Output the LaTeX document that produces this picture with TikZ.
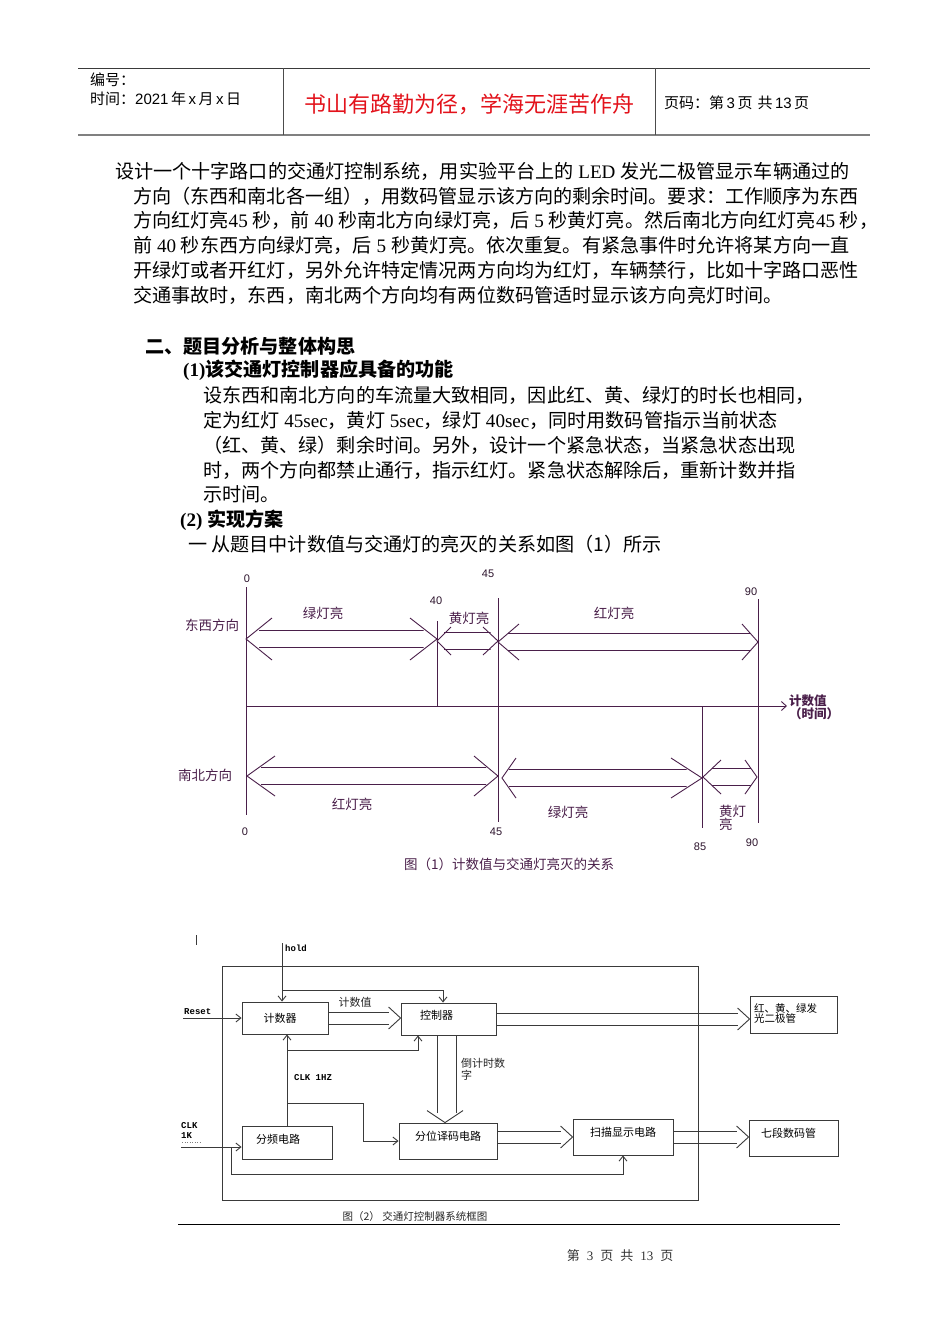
\documentclass[tikz,border=0pt]{standalone}
\usepackage{fontspec}
\setmainfont{Liberation Serif}
\setsansfont{Liberation Sans}
\setmonofont{Liberation Mono}
\newfontfamily\cjk{Noto Sans CJK SC}
\usepackage{tikz}
\usetikzlibrary{arrows.meta,positioning,calc}
\definecolor{figPurple}{HTML}{4A1F4A}
\definecolor{hdRed}{HTML}{E3121B}
\definecolor{lineGray}{HTML}{3A3A3A}
\newcommand{\lat}[1]{{\rmfamily #1}}
\newcommand{\busarrow}[2]{%
  \draw[ln] ([yshift=-6]#1) -- ([xshift=-12,yshift=-6]#2) ([yshift=6]#1) -- ([xshift=-12,yshift=6]#2);
  \draw[ln] ([xshift=-12,yshift=-11]#2) -- (#2) -- ([xshift=-12,yshift=11]#2);}

\begin{document}
\begin{tikzpicture}[x=1pt, y=-1pt,
  body/.style={anchor=west, inner sep=0pt, font=\cjk\fontsize{19.1}{19}\selectfont},
  hd/.style={body, font=\cjk\bfseries\fontsize{19.1}{19}\selectfont},
  hdr/.style={anchor=west, inner sep=0pt, font=\cjk\fontsize{15}{18}\selectfont},
  tl/.style={draw=figPurple, line width=.9pt},
  tlbl/.style={text=figPurple, inner sep=0pt, font=\cjk\fontsize{13.5}{13}\selectfont},
  num/.style={text=figPurple!60!black, inner sep=0pt, font=\sffamily\fontsize{11}{12}\selectfont},
  ln/.style={draw=lineGray, line width=.9pt},
  e/.style={ln, -{Straight Barb[length=5pt,width=8pt]}},
  blk/.style={ln, inner sep=1pt, text depth=11pt, align=left, font=\cjk\fontsize{11}{12}\selectfont},
  flbl/.style={text=black!85, inner sep=0pt, font=\cjk\fontsize{11}{12}\selectfont},
  tt/.style={inner sep=0pt, font=\ttfamily\bfseries\fontsize{9}{10}\selectfont}]
\fill[white] (0,0) rectangle (950,1344);
\useasboundingbox (0,0) rectangle (950,1344);

% page header
\draw[lineGray, line width=1pt] (78,68) -- (870,68);
\draw[gray, line width=2pt] (78,135) -- (870,135);
\draw[gray!60!black, line width=.8pt] (283,68) -- (283,135) (655,68) -- (655,135);
\node[hdr] (idno) at (90,80) {编号：};
\node[hdr] (date) at (90,99) {时间：{\sffamily 2021}\,年\,{\sffamily x}\,月\,{\sffamily x}\,日};
\node[inner sep=0pt, text=hdRed, font=\cjk\fontsize{22}{22}\selectfont] (motto) at (469,104) {书山有路勤为径，学海无涯苦作舟};
\node[hdr] (page) at (664,103) {页码：第\,{\sffamily 3}\,页\hspace{5pt}共\,{\sffamily 13}\,页};

% body text
\node[body] (p1) at (115,171) {设计一个十字路口的交通灯控制系统，用实验平台上的\lat{ LED }发光二极管显示车辆通过的};
\node[body] (p2) at (133,196) {方向（东西和南北各一组），用数码管显示该方向的剩余时间。要求：工作顺序为东西};
\node[body] (p3) at (133,220) {方向红灯亮\lat{45 }秒，前\lat{ 40 }秒南北方向绿灯亮，后\lat{ 5 }秒黄灯亮。然后南北方向红灯亮\lat{45 }秒，};
\node[body] (p4) at (133,245) {前\lat{ 40 }秒东西方向绿灯亮，后\lat{ 5 }秒黄灯亮。依次重复。有紧急事件时允许将某方向一直};
\node[body] (p5) at (133,270) {开绿灯或者开红灯，另外允许特定情况两方向均为红灯，车辆禁行，比如十字路口恶性};
\node[body] (p6) at (133,295) {交通事故时，东西，南北两个方向均有两位数码管适时显示该方向亮灯时间。};
\node[hd] (h1) at (145,346) {二、题目分析与整体构思};
\node[hd] (h2) at (183,370) {\lat{\bfseries(1)}该交通灯控制器应具备的功能};
\node[body] (q1) at (203,395) {设东西和南北方向的车流量大致相同，因此红、黄、绿灯的时长也相同，};
\node[body] (q2) at (203,420) {定为红灯\lat{ 45sec}，黄灯\lat{ 5sec}，绿灯\lat{ 40sec}，同时用数码管指示当前状态};
\node[body] (q3) at (203,445) {（红、黄、绿）剩余时间。另外，设计一个紧急状态，当紧急状态出现};
\node[body] (q4) at (203,470) {时，两个方向都禁止通行，指示红灯。紧急状态解除后，重新计数并指};
\node[body] (q5) at (203,494) {示时间。};
\node[hd] (h3) at (180,520) {\lat{\bfseries(2) }实现方案};
\node[body] (r1) at (188,544) {一 从题目中计数值与交通灯的亮灭的关系如图（1）所示};

% figure 1: count value vs lamps
\foreach \x/\ya/\yb in {246/587/815, 437/621/706, 498/598/822, 758/599/823, 702/706/828}
  \draw[tl] (\x,\ya) -- (\x,\yb);
\draw[tl, -{Straight Barb[length=5pt,width=9pt]}] (246,706) -- (787,706);
\foreach \xa/\xb/\yc/\pl/\pr/\ph in {246/437/639/26/27/21, 437/498/641/14/15/14, 498/758/642/21/16/18,
    247/498/776/28/24/20, 502/702/778/14/31/20, 703/757/777/18/12/17}{
  \draw[tl] (\xa+\pl,\yc-\ph) -- (\xa,\yc) -- (\xa+\pl,\yc+\ph)
            (\xb-\pr,\yc-\ph) -- (\xb,\yc) -- (\xb-\pr,\yc+\ph)
            (\xa+0.5*\pl,\yc-8.5) -- (\xb-0.5*\pr,\yc-8.5)
            (\xa+0.5*\pl,\yc+8.5) -- (\xb-0.5*\pr,\yc+8.5);}
\node[num] (t0) at (247,579) {0}; \node[num] (t40) at (436,601) {40};
\node[num] (t45) at (488,574) {45}; \node[num] (t90) at (751,592) {90};
\node[tlbl] (ew) at (212,625) {东西方向}; \node[tlbl] (ewg) at (323,613) {绿灯亮};
\node[tlbl] (ewy) at (469,618) {黄灯亮}; \node[tlbl] (ewr) at (614,613) {红灯亮};
\node[tlbl, anchor=west, align=left, font=\cjk\bfseries\fontsize{12.5}{13}\selectfont] (axis) at (789,707) {计数值\\（时间）};
\node[tlbl] (ns) at (205,775) {南北方向}; \node[tlbl] (nsr) at (352,804) {红灯亮};
\node[tlbl] (nsg) at (568,812) {绿灯亮};
\node[tlbl, anchor=west, align=left] (nsy) at (719,818) {黄灯\\亮};
\node[num] (b0) at (245,832) {0}; \node[num] (b45) at (496,832) {45};
\node[num] (b85) at (700,847) {85}; \node[num] (b90) at (752,843) {90};
\node[tlbl] (cap1) at (509,864) {图（1）计数值与交通灯亮灭的关系};

% figure 2: block diagram
\draw[ln] (222,966) rectangle (698,1200);
\draw[ln] (196,935) -- (196,945);
\node[blk, minimum width=86, minimum height=32, text depth=0pt, text width=43] (cnt) at (285,1018) {计数器};
\node[blk, minimum width=95, minimum height=32, text depth=8pt, text width=57] (ctl) at (448.5,1019) {控制器};
\node[blk, minimum width=87, minimum height=37, text depth=13pt, text width=79,
  font=\cjk\fontsize{10.5}{10}\selectfont] (led) at (793.5,1014.5) {红、黄、绿发\\光二极管};
\node[blk, minimum width=90, minimum height=33, text depth=8pt, text width=62] (div) at (287,1142.5) {分频电路};
\node[blk, minimum width=98, minimum height=36, text width=66] (dec) at (448,1141) {分位译码电路};
\node[blk, minimum width=100, minimum height=36, text width=66] (scan) at (623,1137) {扫描显示电路};
\node[blk, minimum width=89, minimum height=36, text width=65] (seg) at (793.5,1138) {七段数码管};

\coordinate (hold) at (282,943); \coordinate (hsplit) at (282,990);
\node[tt, anchor=west] (holdlbl) at (285,948) {hold};
\draw[e] (hold) -- (hold |- cnt.north);
\draw[e] (hsplit) -| ([xshift=-5.5]ctl.north);
\coordinate (rst) at (183,1018);
\node[tt, anchor=south west] (rstlbl) at (184,1015) {Reset};
\draw[e] (rst) -- (cnt.west);
\coordinate (ctlin) at (cnt.east -| ctl.west);
\busarrow{cnt.east}{ctlin}
\node[flbl] (cntval) at (355,1002) {计数值};
\coordinate (ledin) at (ctl.east -| led.west);
\busarrow{ctl.east}{ledin}
\coordinate (fb) at (div.north |- 0,1050); \coordinate (split2) at (div.north |- 0,1103);
\draw[e] (div.north) -- (div.north |- cnt.south);
\draw[e] (fb) -| ([xshift=-30.5]ctl.south);
\node[tt] (clk1) at (313,1078) {CLK 1HZ};
\draw[e] (split2) -- ++(76,0) |- (dec.west);
\coordinate (decin) at ([xshift=-3]dec.north);
\draw[ln] ($(decin |- ctl.south)+(-8,0)$) -- ($(decin)+(-8,-10)$)
          ($(decin |- ctl.south)+(11,0)$) -- ($(decin)+(11,-10)$);
\draw[ln] ($(decin)+(-18,-12)$) -- (decin) -- ($(decin)+(18,-12)$);
\node[flbl, anchor=north west, align=left] (cdown) at (461,1058) {倒计时数\\字};
\coordinate (clkin) at (181,1147); \coordinate (csplit) at (231,1147);
\node[tt, anchor=south west, align=left] (clklbl) at (181,1139) {CLK\\1K};
\draw[gray, line width=.5pt, dotted] (182,1142.5) -- (200,1142.5);
\draw[e] (clkin) -- (clkin -| div.west);
\draw[e] (csplit) -- ++(0,27) -| (scan.south);
\coordinate (decout) at (dec.east |- scan.west);
\busarrow{decout}{scan.west}
\coordinate (segin) at (scan.east -| seg.west);
\busarrow{scan.east}{segin}
\node[flbl, font=\cjk\fontsize{10.5}{11}\selectfont] (cap2) at (415,1216) {图（2） 交通灯控制器系统框图};
\draw[black, line width=1pt] (178,1224) -- (840,1224);

% footer
\node[inner sep=0pt, text=black!80, font=\cjk\fontsize{13}{14}\selectfont] (foot) at (620,1256)
  {第\hspace{7pt}\lat{3}\hspace{7pt}页\hspace{7pt}共\hspace{7pt}\lat{13}\hspace{7pt}页};
\end{tikzpicture}
\end{document}
